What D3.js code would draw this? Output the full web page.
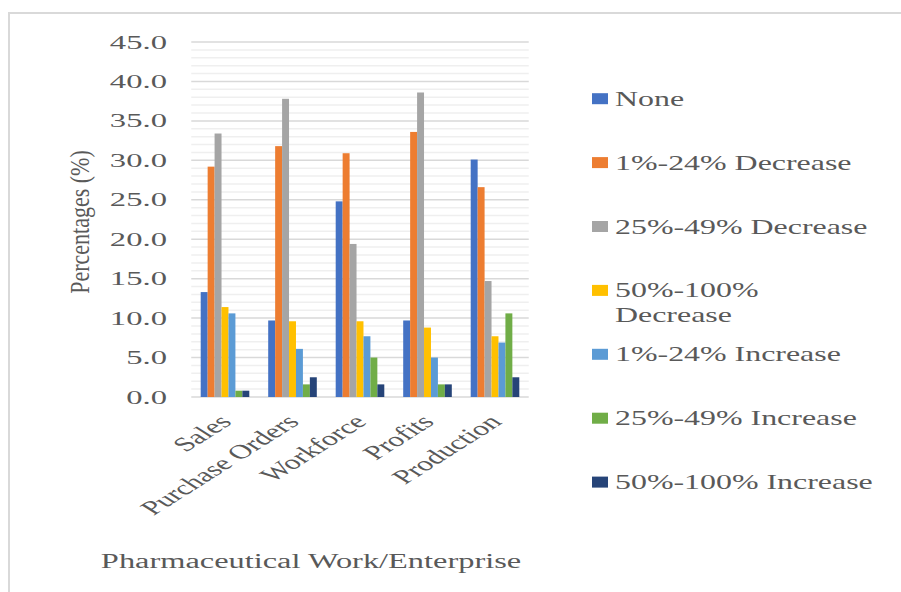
<!DOCTYPE html>
<html>
<head>
<meta charset="utf-8">
<script src="https://cdn.jsdelivr.net/npm/d3@7"></script>
<style>
  html, body { margin: 0; padding: 0; background: #fff; }
  svg { display: block; }
  text { font-family: "Liberation Serif", "Times New Roman", serif; fill: #595959; }
</style>
</head>
<body>
<svg id="chart" width="901" height="592"></svg>
<script>
// Survey: change in pharmaceutical work/enterprise indicators (% of respondents)
const categories = ["Sales", "Purchase Orders", "Workforce", "Profits", "Production"];
const seriesNames = [
  "None",
  "1%-24% Decrease",
  "25%-49% Decrease",
  "50%-100% Decrease",
  "1%-24% Increase",
  "25%-49% Increase",
  "50%-100% Increase"
];
// one array per series, in category order
const none        = [13.3,  9.7, 24.8,  9.7, 30.1];
const dec1to24    = [29.2, 31.8, 30.9, 33.6, 26.6];
const dec25to49   = [33.4, 37.8, 19.4, 38.6, 14.7];
const dec50to100  = [11.4,  9.6,  9.6,  8.8,  7.7];
const inc1to24    = [10.6,  6.1,  7.7,  5.0,  6.9];
const inc25to49   = [ 0.8,  1.6,  5.0,  1.6, 10.6];
const inc50to100  = [ 0.8,  2.5,  1.6,  1.6,  2.5];
const yTicks = [0, 5, 10, 15, 20, 25, 30, 35, 40, 45];
const colors = ["#4472C4", "#ED7D31", "#A5A5A5", "#FFC000", "#5B9BD5", "#70AD47", "#264478"];

const seriesValues = [none, dec1to24, dec25to49, dec50to100, inc1to24, inc25to49, inc50to100];

const svg = d3.select("#chart");

// frame
svg.append("path")
  .attr("d", "M9,592 V13 H901")
  .attr("fill", "none")
  .attr("stroke", "#d9d9d9")
  .attr("stroke-width", 2);

const plot = { left: 191.25, right: 528.75, top: 42, bottom: 397 };

const x = d3.scaleBand()
  .domain(categories)
  .range([plot.left, plot.right])
  .paddingInner(0.28)
  .paddingOuter(0.14);

const xs = d3.scaleBand()
  .domain(d3.range(seriesNames.length))
  .range([0, x.bandwidth()]);

const y = d3.scaleLinear().domain([0, 45]).range([plot.bottom, plot.top]);

// minor gridlines every 1 unit
svg.append("g")
  .selectAll("line")
  .data(d3.range(1, 45).filter(v => v % 5 !== 0))
  .join("line")
  .attr("x1", plot.left).attr("x2", plot.right)
  .attr("y1", d => y(d)).attr("y2", d => y(d))
  .attr("stroke", "#efefef")
  .attr("stroke-width", 1.5);

// major gridlines
svg.append("g")
  .selectAll("line")
  .data(yTicks)
  .join("line")
  .attr("x1", plot.left).attr("x2", plot.right)
  .attr("y1", d => y(d)).attr("y2", d => y(d))
  .attr("stroke", "#d9d9d9")
  .attr("stroke-width", 1.5);

// bars
const groups = svg.append("g")
  .selectAll("g")
  .data(categories)
  .join("g")
  .attr("transform", d => `translate(${x(d)},0)`);

groups.selectAll("rect")
  .data((c, ci) => seriesValues.map((vals, si) => ({ si, v: vals[ci] })))
  .join("rect")
  .attr("x", d => xs(d.si))
  .attr("width", xs.bandwidth())
  .attr("y", d => y(d.v))
  .attr("height", d => y(0) - y(d.v))
  .attr("fill", d => colors[d.si]);

// y axis labels
const yAxis = d3.axisLeft(y).tickValues(yTicks).tickSize(0);
const yg = svg.append("g");
yg.call(yAxis);
yg.select(".domain").remove();
yg.selectAll(".tick text").remove();
yg.selectAll(".tick")
  .append("text")
  .attr("transform", "translate(167,6) scale(1.72,1)")
  .attr("text-anchor", "end")
  .style("font-size", "19px")
  .text(d => d3.format(".1f")(d));

// x category labels (rotated, horizontally widened)
const xAxis = d3.axisBottom(x).tickSize(0);
const xg = svg.append("g").attr("transform", `translate(0,${plot.bottom})`);
xg.call(xAxis);
xg.select(".domain").remove();
xg.selectAll(".tick text").remove();
xg.selectAll(".tick")
  .append("text")
  .attr("transform", "translate(8,26) scale(1.58,1) rotate(-45)")
  .attr("text-anchor", "end")
  .style("font-size", "20px")
  .text(d => d);

// axis titles
svg.append("text")
  .attr("transform", "translate(89,222) scale(1.25,1) rotate(-90)")
  .attr("text-anchor", "middle")
  .style("font-size", "22px")
  .text("Percentages (%)");

svg.append("text")
  .attr("transform", "translate(311,568) scale(1.62,1)")
  .attr("text-anchor", "middle")
  .style("font-size", "20px")
  .text("Pharmaceutical Work/Enterprise");

// legend
const legendTop = 98.7, legendStep = 63.9;
const legend = svg.append("g")
  .selectAll("g")
  .data(seriesNames)
  .join("g")
  .attr("transform", (d, i) => `translate(592,${legendTop + i * legendStep})`);

legend.append("rect")
  .attr("x", 0).attr("y", -5.5)
  .attr("width", 16).attr("height", 11)
  .attr("fill", (d, i) => colors[i]);

legend.append("text")
  .attr("transform", "translate(23,7) scale(1.52,1)")
  .style("font-size", "21px")
  .each(function(d) {
    const t = d3.select(this);
    if (d === "50%-100% Decrease") {
      t.append("tspan").attr("x", 0).attr("y", 0).text("50%-100%");
      t.append("tspan").attr("x", 0).attr("y", 25).text("Decrease");
    } else {
      t.text(d);
    }
  });
</script>
</body>
</html>
